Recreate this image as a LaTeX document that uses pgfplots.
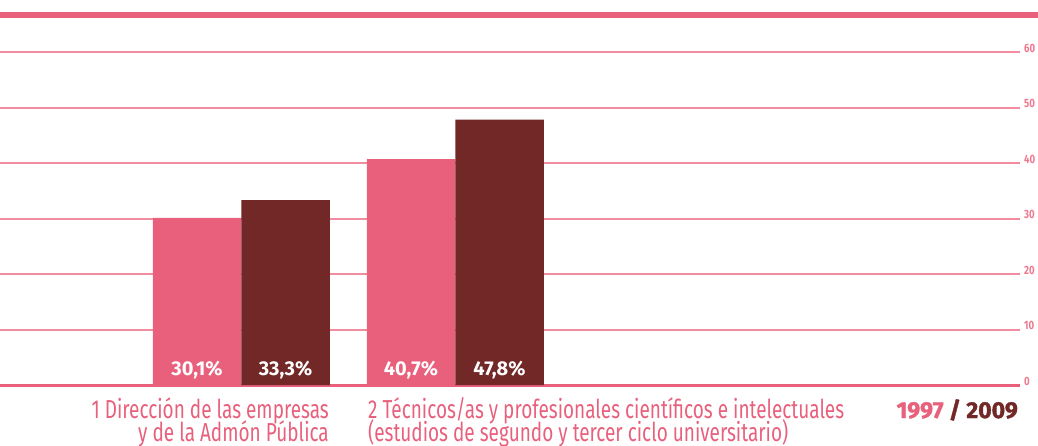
\documentclass[border=0pt]{standalone}
\usepackage{fontspec}
\setmainfont[FakeStretch=0.73]{Fira Sans}
\newfontfamily\legfont[FakeStretch=1.0, BoldFeatures={FakeBold=1.5}]{Fira Sans}
\newfontfamily\valfont[FakeStretch=1.0]{Fira Sans}
\newfontfamily\tickfont[FakeStretch=0.8]{Fira Sans}
\usepackage{pgfplots}
\pgfplotsset{compat=1.18}
\definecolor{pinkbar}{HTML}{E8607C}
\definecolor{darkbar}{HTML}{722826}
\definecolor{gridpink}{HTML}{F28CA0}
\definecolor{tickpink}{HTML}{EE7890}
\begin{document}
\begin{tikzpicture}
\path[use as bounding box] (0,-60pt) rectangle (1038pt,385pt);
\begin{axis}[
  at={(0,0)}, anchor=south west,
  scale only axis, width=1020pt, height=369.5pt,
  xmin=0, xmax=1020, ymin=0, ymax=66.58,
  axis line style={draw=none},
  xtick=\empty,
  ytick={0,10,20,30,40,50,60},
  yticklabel pos=right,
  major tick length=0pt,
  yticklabel style={font=\tickfont\fontsize{12}{12}\selectfont\bfseries, text=tickpink, anchor=base west, inner sep=0pt, xshift=4pt},
  /pgf/number format/assume math mode=true,
  ymajorgrids,
  grid style={draw=gridpink, line width=2pt},
  clip=false,
]
\draw[pinkbar, line width=3pt] (axis cs:0,0) -- (axis cs:1020,0);
\addplot[ybar, bar shift=0pt, bar width=88.5, fill=pinkbar, draw=none] coordinates {(197,30.1) (411,40.7)};
\addplot[ybar, bar shift=0pt, bar width=88.5, fill=darkbar, draw=none] coordinates {(285.5,33.3) (499.5,47.8)};
\addplot[only marks, mark=none, nodes near coords, point meta=explicit symbolic,
  every node near coord/.append style={font=\valfont\fontsize{20}{22}\selectfont\bfseries, text=white, anchor=base, inner sep=0pt, yshift=10pt}]
  coordinates {(197,0) [30,1\%] (285.5,0) [33,3\%] (411,0) [40,7\%] (499.5,0) [47,8\%]};
\node[anchor=base east, inner sep=0pt, text=pinkbar, font=\fontsize{26}{26}\selectfont] at (axis cs:329,0) [yshift=-33pt] {1 Dirección de las empresas};
\node[anchor=base east, inner sep=0pt, text=pinkbar, font=\fontsize{26}{26}\selectfont] at (axis cs:329,0) [yshift=-56.5pt] {y de la Admón Pública};
\node[anchor=base west, inner sep=0pt, text=pinkbar, font=\fontsize{26}{26}\selectfont] at (axis cs:368,0) [yshift=-33pt] {2 Técnicos/as y profesionales científicos e intelectuales};
\node[anchor=base west, inner sep=0pt, text=pinkbar, font=\fontsize{26}{26}\selectfont] at (axis cs:368,0) [yshift=-56.5pt] {(estudios de segundo y tercer ciclo universitario)};
\node[anchor=base east, inner sep=0pt, font=\legfont\fontsize{23}{23}\selectfont\bfseries] at (axis cs:1018,0) [yshift=-33pt] {\textcolor{pinkbar}{1997} \textcolor{darkbar}{/ 2009}};
\end{axis}
\draw[pinkbar, line width=6pt] (0,369.5pt) -- (1038pt,369.5pt);
\end{tikzpicture}
\end{document}
